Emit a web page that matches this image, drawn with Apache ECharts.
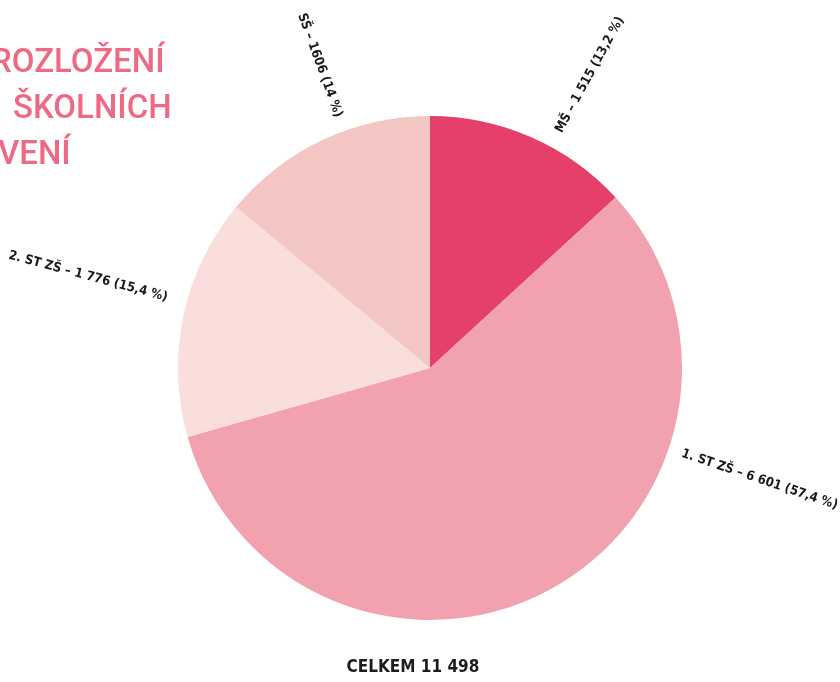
<!DOCTYPE html>
<html>
<head>
<meta charset="utf-8">
<style>
  html, body { margin: 0; padding: 0; background: #ffffff; }
  #chart { width: 840px; height: 682px; }
</style>
<script src="https://cdn.jsdelivr.net/npm/echarts@6/dist/echarts.min.js"></script>
</head>
<body>
<div id="chart"></div>
<script>
// data
const categories = ['MŠ', '1. ST ZŠ', '2. ST ZŠ', 'SŠ']
const values = [1515, 6601, 1776, 1606]
const valueLabels = ['1 515', '6 601', '1 776', '1606']
const percentLabels = ['13,2 %', '57,4 %', '15,4 %', '14 %']
const totalLabel = 'CELKEM 11 498'
const titleLines = ['ROZLOŽENÍ', 'ŠKOLNÍCH', 'VENÍ']

const sliceColors = ['#e5406a', '#f1a2ae', '#f9dedb', '#f3c6c4']

// where each label sits around the pie (degrees clockwise from 12 o'clock, px from centre)
const labelAngles = [28.6, 108.7, 285, 340]
const labelDist = [334, 348, 354, 322]

const cx = 430
const cy = 368
const radius = 252

const titleFont = '500 33px Roboto, "Noto Sans", sans-serif'
const labelFont = '"DejaVu Sans Condensed", "Liberation Sans Narrow", sans-serif'

const chart = echarts.init(document.getElementById('chart'))

// title lines are cropped on the left in the original
const titleLeft = [-9, 13, -2]
const titleTop = [47, 93, 139]

const option = {
  backgroundColor: '#ffffff',
  animation: false,
  graphic: titleLines.map((t, i) => ({
    type: 'text',
    left: titleLeft[i],
    top: titleTop[i],
    style: { text: t, fill: '#ee6a84', font: titleFont }
  })).concat([
    {
      type: 'text',
      x: 413,
      y: 668,
      style: { text: totalLabel, fill: '#1c1c1c', font: 'bold 17px ' + labelFont, align: 'center', verticalAlign: 'middle' }
    }
  ]),
  series: [
    {
      type: 'pie',
      center: [cx, cy],
      radius: radius,
      startAngle: 90,
      clockwise: true,
      avoidLabelOverlap: false,
      data: categories.map((c, i) => ({
        name: c,
        value: values[i],
        itemStyle: { color: sliceColors[i] }
      })),
      label: {
        show: true,
        position: 'outside',
        formatter: (p) => `${p.name} – ${valueLabels[p.dataIndex]} (${percentLabels[p.dataIndex]})`,
        color: '#1a1a1a',
        fontFamily: labelFont,
        fontWeight: 'bold',
        fontSize: 13
      },
      labelLine: { show: false },
      emphasis: { disabled: true },
      labelLayout: (p) => {
        const a = labelAngles[p.dataIndex]
        const r = labelDist[p.dataIndex]
        const rad = a * Math.PI / 180
        // radial text, kept readable on the left half
        const rot = a < 180 ? 90 - a : 270 - a
        return {
          x: cx + r * Math.sin(rad),
          y: cy - r * Math.cos(rad),
          rotate: rot,
          align: 'center',
          verticalAlign: 'middle'
        }
      }
    }
  ]
}

chart.setOption(option)
</script>
</body>
</html>
